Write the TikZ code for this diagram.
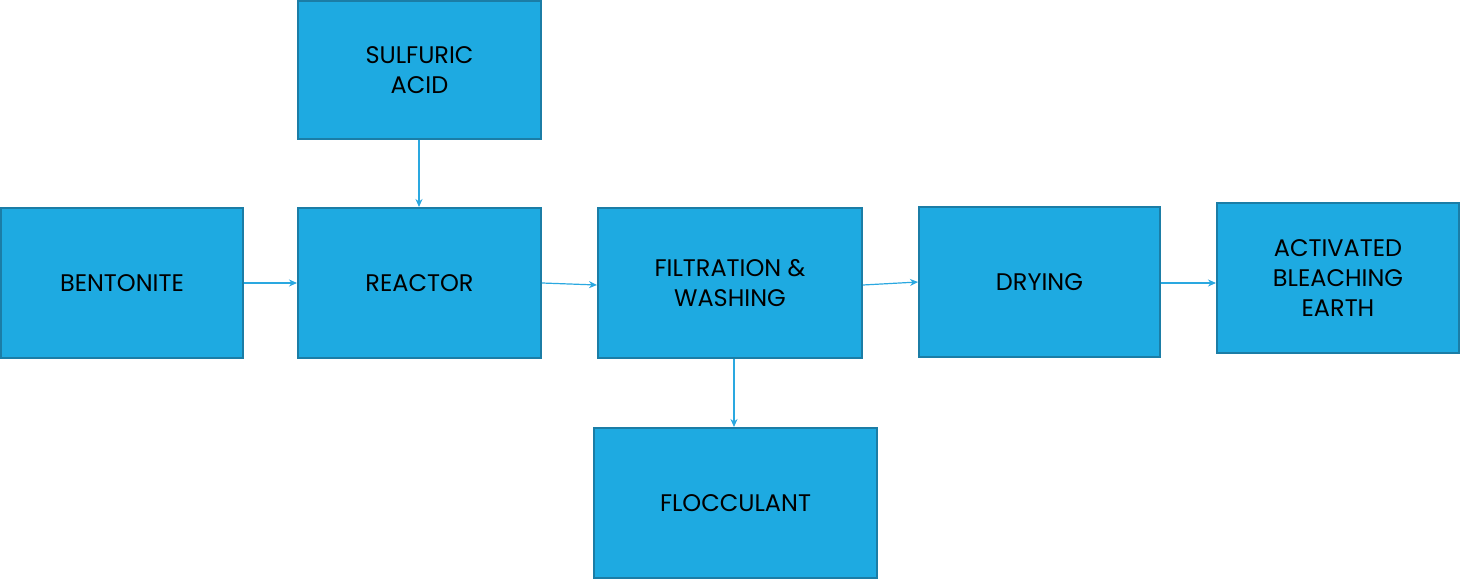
\documentclass[tikz,border=0pt]{standalone}
\usepackage{fontspec}
\setmainfont{Poppins}
\usetikzlibrary{arrows.meta}
\definecolor{boxfill}{HTML}{1EAAE1}
\definecolor{boxline}{HTML}{1B7DA6}
\definecolor{arr}{HTML}{2AA8E0}
\begin{document}
\begin{tikzpicture}[x=1pt,y=-1pt,
  box/.style={draw=boxline,line width=1.8pt,fill=boxfill,align=center,font=\fontsize{24}{30}\selectfont,text=black},
  con/.style={draw=arr,line width=1.2pt,-{Stealth[length=8pt,width=7pt]}}]
\useasboundingbox (0,0) rectangle (1460,580);
\path[box] (298,1) rectangle (541,139) node[midway] (acid) {SULFURIC\\ACID};
\path[box] (1,208) rectangle (243,358) node[midway] (bent) {BENTONITE};
\path[box] (298,208) rectangle (541,358) node[midway] (reac) {REACTOR};
\path[box] (598,208) rectangle (862,358) node[midway] (filt) {FILTRATION \&\\WASHING};
\path[box] (919,207) rectangle (1160,357) node[midway] (dry) {DRYING};
\path[box] (1217,203) rectangle (1459,353) node[midway] (abe) {ACTIVATED\\BLEACHING\\EARTH};
\path[box] (594,428) rectangle (877,578) node[midway] (floc) {FLOCCULANT};
\coordinate (a1) at (419,140); \coordinate (a2) at (419,207);
\coordinate (b1) at (244,283); \coordinate (b2) at (297,283);
\coordinate (c1) at (542,283); \coordinate (c2) at (597,285);
\coordinate (d1) at (863,285); \coordinate (d2) at (918,282);
\coordinate (e1) at (1161,283); \coordinate (e2) at (1216,283);
\coordinate (f1) at (734,359); \coordinate (f2) at (734,427);
\draw[con] (a1) -- (a2);
\draw[con] (b1) -- (b2);
\draw[con] (c1) -- (c2);
\draw[con] (d1) -- (d2);
\draw[con] (e1) -- (e2);
\draw[con] (f1) -- (f2);
\end{tikzpicture}
\end{document}
